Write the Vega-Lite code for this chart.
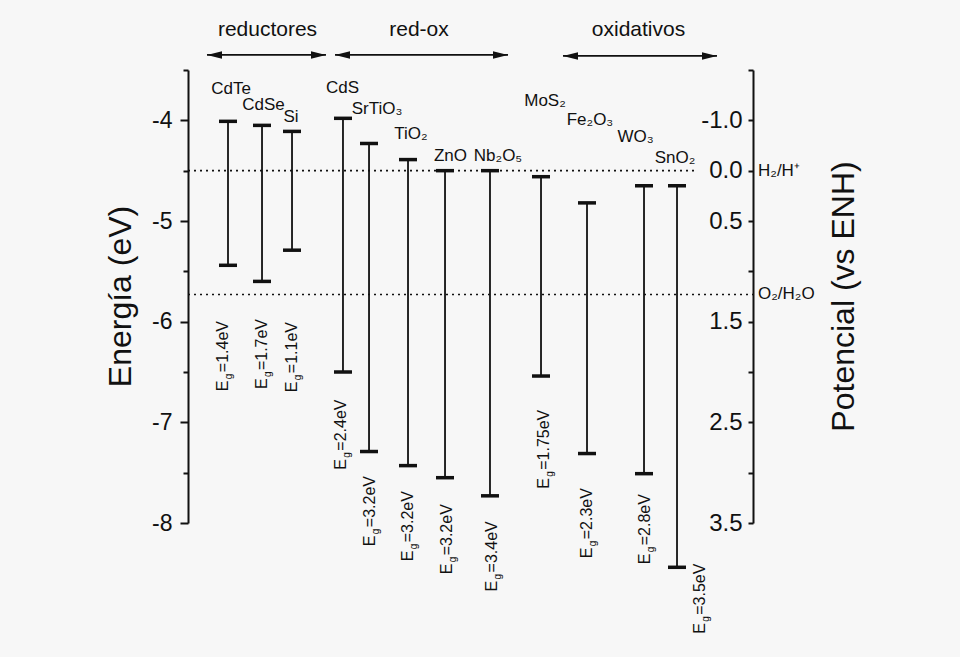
{
  "$schema": "https://vega.github.io/schema/vega-lite/v6.json",
  "width": 565,
  "height": 453,
  "autosize": {"type": "none"},
  "padding": {"left": 188, "top": 70, "right": 207, "bottom": 134},
  "background": "#f7f7f7",
  "config": {
    "view": {"stroke": null},
    "font": "Liberation Sans",
    "text": {"font": "Liberation Sans", "color": "#111"}
  },
  "datasets": {
    "bands": [
      {"name": "CdTe", "x": 0.708, "cb": -4.01, "vb": -5.44, "nx": 0.761, "ny": -3.69, "ex": 0.619, "ey": -6.69, "eg": "=1.4eV"},
      {"name": "CdSe", "x": 1.31, "cb": -4.05, "vb": -5.6, "nx": 1.336, "ny": -3.85, "ex": 1.31, "ey": -6.67, "eg": "=1.7eV"},
      {"name": "Si", "x": 1.841, "cb": -4.11, "vb": -5.29, "nx": 1.823, "ny": -3.97, "ex": 1.841, "ey": -6.7, "eg": "=1.1eV"},
      {"name": "CdS", "x": 2.743, "cb": -3.98, "vb": -6.5, "nx": 2.735, "ny": -3.68, "ex": 2.708, "ey": -7.47, "eg": "=2.4eV"},
      {"name": "SrTiO₃", "x": 3.204, "cb": -4.23, "vb": -7.29, "nx": 3.345, "ny": -3.89, "ex": 3.221, "ey": -8.23, "eg": "=3.2eV"},
      {"name": "TiO₂", "x": 3.894, "cb": -4.39, "vb": -7.43, "nx": 3.947, "ny": -4.14, "ex": 3.894, "ey": -8.38, "eg": "=3.2eV"},
      {"name": "ZnO", "x": 4.549, "cb": -4.5, "vb": -7.55, "nx": 4.646, "ny": -4.35, "ex": 4.584, "ey": -8.51, "eg": "=3.2eV"},
      {"name": "Nb₂O₅", "x": 5.345, "cb": -4.5, "vb": -7.73, "nx": 5.487, "ny": -4.35, "ex": 5.381, "ey": -8.68, "eg": "=3.4eV"},
      {"name": "MoS₂", "x": 6.248, "cb": -4.56, "vb": -6.54, "nx": 6.319, "ny": -3.81, "ex": 6.301, "ey": -7.66, "eg": "=1.75eV"},
      {"name": "Fe₂O₃", "x": 7.062, "cb": -4.82, "vb": -7.31, "nx": 7.115, "ny": -4.0, "ex": 7.062, "ey": -8.35, "eg": "=2.3eV"},
      {"name": "WO₃", "x": 8.071, "cb": -4.65, "vb": -7.51, "nx": 7.92, "ny": -4.17, "ex": 8.088, "ey": -8.41, "eg": "=2.8eV"},
      {"name": "SnO₂", "x": 8.655, "cb": -4.65, "vb": -8.44, "nx": 8.619, "ny": -4.37, "ex": 9.062, "ey": -9.1, "eg": "=3.5eV"}
    ],
    "refs": [
      {"ref": "H₂/H⁺", "e": -4.5, "x1": 0, "x2": 8.97},
      {"ref": "O₂/H₂O", "e": -5.73, "x1": 0, "x2": 10}
    ],
    "groups": [
      {"group": "reductores", "gx": 1.407, "ty": -3.1, "ay": -3.35, "xa": 0.336, "xb": 2.442},
      {"group": "red-ox", "gx": 4.088, "ty": -3.1, "ay": -3.35, "xa": 2.602, "xb": 5.664},
      {"group": "oxidativos", "gx": 7.973, "ty": -3.1, "ay": -3.36, "xa": 6.637, "xb": 9.363}
    ]
  },
  "resolve": {"axis": {"y": "independent"}},
  "layer": [
    {
      "data": {"name": "bands"},
      "mark": {"type": "rule", "strokeWidth": 1.8, "color": "#111"},
      "encoding": {
        "x": {"field": "x", "type": "quantitative", "scale": {"domain": [0, 10]}, "axis": null},
        "y": {
          "field": "cb", "type": "quantitative",
          "scale": {"domain": [-8, -3.5], "nice": false, "zero": false},
          "axis": {
            "orient": "left",
            "values": [-8, -7.5, -7, -6.5, -6, -5.5, -5, -4.5, -4, -3.5],
            "labelExpr": "datum.value % 1 === 0 ? '' + datum.value : ''",
            "grid": false,
            "domainColor": "#111", "domainWidth": 2,
            "tickColor": "#111", "tickWidth": 2,
            "tickSize": {"condition": {"test": "datum.value % 1 !== 0", "value": 5}, "value": 8},
            "labelPadding": 8,
            "labelFont": "Liberation Sans", "labelFontSize": 23, "labelColor": "#111",
            "labelBaseline": "middle",
            "title": "Energía (eV)",
            "titleFont": "Liberation Sans", "titleFontSize": 32, "titleFontWeight": "normal", "titleColor": "#111",
            "titleAngle": 270, "titleAlign": "center", "titleBaseline": "middle",
            "titleX": -68, "titleY": 226
          }
        },
        "y2": {"field": "vb"}
      }
    },
    {
      "data": {"name": "bands"},
      "mark": {"type": "point", "shape": "stroke", "size": 324, "strokeWidth": 3.5, "color": "#111", "filled": false, "opacity": 1},
      "encoding": {
        "x": {"field": "x", "type": "quantitative", "scale": {"domain": [0, 10]}, "axis": null},
        "y": {
          "field": "cb", "type": "quantitative",
          "scale": {"domain": [-8, -3.5], "nice": false, "zero": false},
          "axis": {
            "orient": "right",
            "values": [-8, -7.5, -7, -6.5, -6, -5.5, -5, -4.5, -4, -3.5],
            "labelExpr": "datum.value == -4 ? '-1.0' : ((datum.value % 1 === 0 || datum.value == -4.5) ? format(-4.5 - datum.value, '.1f') : '')",
            "grid": false,
            "domainColor": "#111", "domainWidth": 2,
            "tickColor": "#111", "tickWidth": 2,
            "tickSize": -5,
            "labelPadding": -6,
            "labelAlign": "right",
            "labelBaseline": "middle",
            "labelFont": "Liberation Sans", "labelFontSize": 24, "labelColor": "#111",
            "title": "Potencial (vs ENH)",
            "titleFont": "Liberation Sans", "titleFontSize": 32, "titleFontWeight": "normal", "titleColor": "#111",
            "titleAngle": 270, "titleAlign": "center", "titleBaseline": "middle",
            "titleX": 90, "titleY": 226
          }
        }
      }
    },
    {
      "data": {"name": "bands"},
      "mark": {"type": "point", "shape": "stroke", "size": 324, "strokeWidth": 3.5, "color": "#111", "filled": false, "opacity": 1},
      "encoding": {
        "x": {"field": "x", "type": "quantitative", "scale": {"domain": [0, 10]}, "axis": null},
        "y": {"field": "vb", "type": "quantitative", "scale": {"domain": [-8, -3.5], "nice": false, "zero": false}, "axis": null}
      }
    },
    {
      "data": {"name": "bands"},
      "mark": {"type": "text", "fontSize": 17, "align": "center", "baseline": "middle"},
      "encoding": {
        "x": {"field": "nx", "type": "quantitative", "scale": {"domain": [0, 10]}, "axis": null},
        "y": {"field": "ny", "type": "quantitative", "scale": {"domain": [-8, -3.5], "nice": false, "zero": false}, "axis": null},
        "text": {"field": "name"}
      }
    },
    {
      "data": {"name": "bands"},
      "mark": {"type": "text", "fontSize": 16, "align": "left", "baseline": "middle", "angle": 270, "text": "E"},
      "encoding": {
        "x": {"field": "ex", "type": "quantitative", "scale": {"domain": [0, 10]}, "axis": null},
        "y": {"field": "ey", "type": "quantitative", "scale": {"domain": [-8, -3.5], "nice": false, "zero": false}, "axis": null}
      }
    },
    {
      "data": {"name": "bands"},
      "mark": {"type": "text", "fontSize": 10, "align": "left", "baseline": "middle", "angle": 270, "dx": 12, "dy": 6, "text": "g"},
      "encoding": {
        "x": {"field": "ex", "type": "quantitative", "scale": {"domain": [0, 10]}, "axis": null},
        "y": {"field": "ey", "type": "quantitative", "scale": {"domain": [-8, -3.5], "nice": false, "zero": false}, "axis": null}
      }
    },
    {
      "data": {"name": "bands"},
      "mark": {"type": "text", "fontSize": 16, "align": "left", "baseline": "middle", "angle": 270, "dx": 19},
      "encoding": {
        "x": {"field": "ex", "type": "quantitative", "scale": {"domain": [0, 10]}, "axis": null},
        "y": {"field": "ey", "type": "quantitative", "scale": {"domain": [-8, -3.5], "nice": false, "zero": false}, "axis": null},
        "text": {"field": "eg"}
      }
    },
    {
      "data": {"name": "refs"},
      "mark": {"type": "rule", "strokeWidth": 1.6, "strokeDash": [2, 4], "color": "#111"},
      "encoding": {
        "x": {"field": "x1", "type": "quantitative", "scale": {"domain": [0, 10]}, "axis": null},
        "x2": {"field": "x2"},
        "y": {"field": "e", "type": "quantitative", "scale": {"domain": [-8, -3.5], "nice": false, "zero": false}, "axis": null}
      }
    },
    {
      "data": {"name": "refs"},
      "mark": {"type": "text", "fontSize": 17, "align": "left", "baseline": "middle", "dx": 5},
      "encoding": {
        "x": {"datum": 10, "type": "quantitative", "scale": {"domain": [0, 10]}, "axis": null},
        "y": {"field": "e", "type": "quantitative", "scale": {"domain": [-8, -3.5], "nice": false, "zero": false}, "axis": null},
        "text": {"field": "ref"}
      }
    },
    {
      "data": {"name": "groups"},
      "mark": {"type": "rule", "strokeWidth": 1.6, "color": "#111"},
      "encoding": {
        "x": {"field": "xa", "type": "quantitative", "scale": {"domain": [0, 10]}, "axis": null},
        "x2": {"field": "xb"},
        "y": {"field": "ay", "type": "quantitative", "scale": {"domain": [-8, -3.5], "nice": false, "zero": false}, "axis": null}
      }
    },
    {
      "data": {"name": "groups"},
      "mark": {"type": "point", "shape": "M0,0L1,-0.25L1,0.25Z", "size": 900, "filled": true, "opacity": 1, "color": "#111", "strokeWidth": 0},
      "encoding": {
        "x": {"field": "xa", "type": "quantitative", "scale": {"domain": [0, 10]}, "axis": null},
        "y": {"field": "ay", "type": "quantitative", "scale": {"domain": [-8, -3.5], "nice": false, "zero": false}, "axis": null}
      }
    },
    {
      "data": {"name": "groups"},
      "mark": {"type": "point", "shape": "M0,0L-1,-0.25L-1,0.25Z", "size": 900, "filled": true, "opacity": 1, "color": "#111", "strokeWidth": 0},
      "encoding": {
        "x": {"field": "xb", "type": "quantitative", "scale": {"domain": [0, 10]}, "axis": null},
        "y": {"field": "ay", "type": "quantitative", "scale": {"domain": [-8, -3.5], "nice": false, "zero": false}, "axis": null}
      }
    },
    {
      "data": {"name": "groups"},
      "mark": {"type": "text", "fontSize": 21, "align": "center", "baseline": "middle"},
      "encoding": {
        "x": {"field": "gx", "type": "quantitative", "scale": {"domain": [0, 10]}, "axis": null},
        "y": {"field": "ty", "type": "quantitative", "scale": {"domain": [-8, -3.5], "nice": false, "zero": false}, "axis": null},
        "text": {"field": "group"}
      }
    }
  ]
}
